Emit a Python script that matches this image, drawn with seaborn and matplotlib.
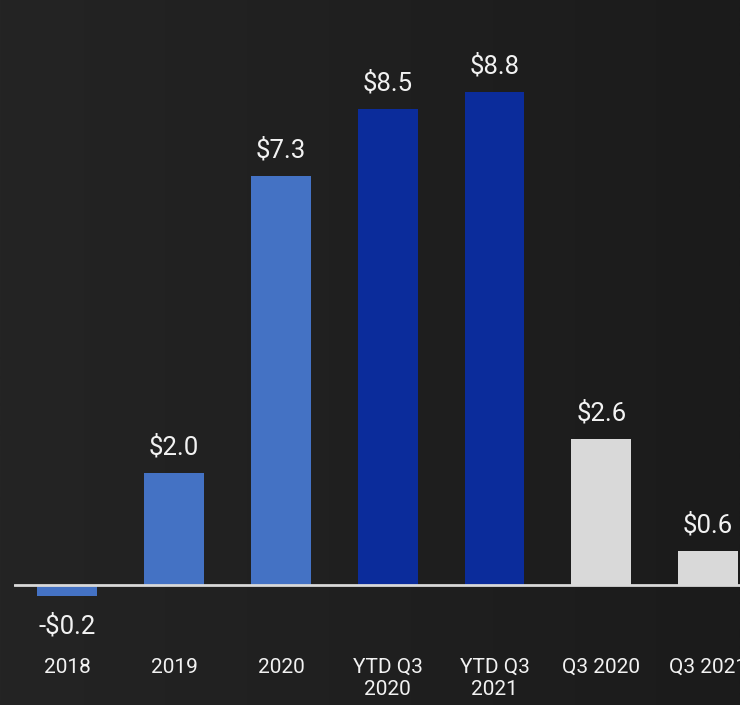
import numpy as np
import pandas as pd
import matplotlib
matplotlib.use("Agg")
import matplotlib.pyplot as plt
from matplotlib.colors import LinearSegmentedColormap
import seaborn as sns

categories = ["2018", "2019", "2020", "YTD Q3\n2020", "YTD Q3\n2021", "Q3 2020", "Q3 2021"]
values = [-0.2, 2.0, 7.3, 8.5, 8.8, 2.6, 0.6]
value_labels = ["-$0.2", "$2.0", "$7.3", "$8.5", "$8.8", "$2.6", "$0.6"]
bar_colors = ["#4472C4", "#4472C4", "#4472C4", "#0B2C9B", "#0B2C9B", "#D9D9D9", "#D9D9D9"]

sns.set_style("white")
plt.rcParams["font.family"] = ["Roboto", "DejaVu Sans"]

df = pd.DataFrame({"cat": categories, "val": values})

fig = plt.figure(figsize=(7.4, 7.05), dpi=100)

# background gradient
bg = fig.add_axes([0, 0, 1, 1], zorder=-10)
grad = np.linspace(0, 1, 256).reshape(1, -1)
cmap = LinearSegmentedColormap.from_list("bg", ["#242424", "#1b1b1b"])
bg.imshow(grad, aspect="auto", cmap=cmap, extent=[0, 1, 0, 1])
bg.set_axis_off()

ax = fig.add_axes([14 / 740, 64 / 705, 726 / 740, 616 / 705])
ax.set_facecolor("none")

sns.barplot(data=df, x="cat", y="val", hue="cat", palette=bar_colors,
            dodge=False, legend=False, width=0.56, saturation=1, ax=ax,
            order=categories, hue_order=categories, linewidth=0, edgecolor="none")

ax.set_xlim(-0.5, 6.3)
ax.set_ylim(-1.0, 10.0)
ax.axhline(0, color="#d9d9d9", lw=2, zorder=3)

for p in ax.patches:
    xc = p.get_x() + p.get_width() / 2
    idx = int(round(xc))
    v = values[idx]
    off = 13.5 if v >= 0 else -27
    ax.annotate(value_labels[idx], (xc, v), xytext=(0, off), textcoords="offset points",
                ha="center", va="baseline", fontsize=18.5, color="#f2f2f2")

ax.set_xlabel("")
ax.set_ylabel("")
ax.set_yticks([])
ax.set_xticks(range(len(categories)))
ax.set_xticklabels(categories, fontsize=15, color="#f2f2f2", linespacing=1.25)
ax.tick_params(axis="x", length=0, pad=12)
for s in ax.spines.values():
    s.set_visible(False)

fig.savefig("out.png", dpi=100)
